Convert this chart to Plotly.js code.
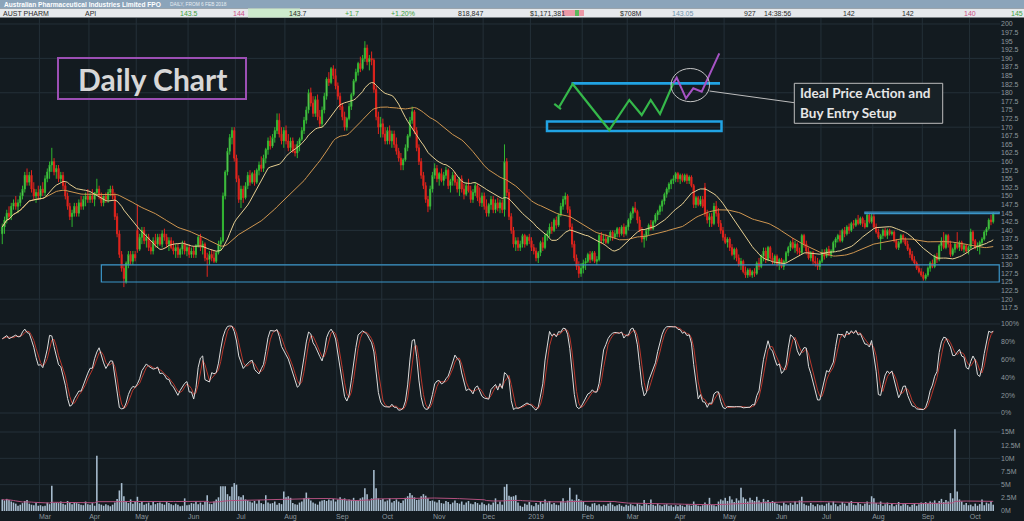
<!DOCTYPE html>
<html><head><meta charset="utf-8">
<script src="https://cdn.plot.ly/plotly-3.0.1.min.js"></script>
<style>html,body{margin:0;padding:0;background:#131b20;overflow:hidden}#chart{width:1024px;height:521px}</style>
</head><body><div id="chart"></div><script>
// ---------- DATA (daily, one line per month, Feb-2018 .. Oct-2019) ----------
const startDate = '2018-02-06';
const opens = [
139,141,143,145,144,147,148,147,148,150,152,156,154,156,152,150,151,
150,152,151,155,157,159,160,157,158,155,156,153,150,147,144,145,147,145,148,147,149,150,
149,150,149,151,152,150,148,150,149,151,152,150,144,139,133,129,125,130,133,131,133,
140,134.5,138,140,137,138,135,134,137,136,138,136,139,138,136,137,135,134,135,133,134.5,136,134,
135,133,134,133,135.5,138,135,136,132,131.5,133,132,131,133.5,136,137,150,157,163,167,169,
161,155,149,152,149.5,153,156,154,156.5,154,157.5,159,158,161,163.5,166,164.5,167,169,172,168,166,
169,166,164,166,163,162.5,165,166.5,169,172,175,180,177,174,178,173,171,175,179,184,183,187,185,
182,179,176,173,170,172.5,176,179.5,183.5,186,188.5,187,190,193,189,190,189.5,181,173,170,
171,168,166,169,166,168,165,163,161,159,160.5,164,167.5,172,174.5,169,164,160,156,153,149,147,152,
156,158,155,156.5,154.5,156,157.5,153,154.5,156,154,152,155,152,150.5,153,151.5,149,151,153,149.5,148,
150,147,145,147.5,149,146,148,146.5,148,146,160,151,144,140,136,137,135,136,138.5,136,138,
137,135,134,132,133.5,136.5,135,138.5,139,141,140,143,141.5,144.5,147,149,150,146,141,136,132,129.5,127.5,
129,130.5,131,133,131.5,133.5,131,131.5,138.5,137,137.5,136.5,138,139.5,138,139,140.5,139,141,139,
141,143,145,146.5,145.5,143,140,137.5,138,140,141.5,140.5,142.5,144.5,145.5,147,148.5,150.5,152,153.5,154.5,
155,156.5,155,156,154.5,156,154.5,155.5,153,147.5,149.5,147.5,149,152.5,145,143,144,142,147,145,142,140,
138,136.5,137.5,135,133,134.5,132,130,131,128,127,128.5,127,128,127.5,130.5,129.5,132.5,134,131.5,135,132,131,
132.5,130,131.5,129.5,131,133.5,135,136.5,135,136,134,133.5,138.5,136,134,132,133.5,131,130.5,129.5,
131,133.5,132.5,134.5,133,134,136.5,137.5,138.5,137,140,139,141,140,142,141.5,143,142,143.5,142,141,144.5,142.5,
144,141,139.5,137.5,138.5,140,138.5,140,139,139.5,137,135,136.5,138.5,137.5,136,134.5,133,131.5,130.5,129,128,
127,126,127,129,130.5,129.5,132.5,131.5,135.5,137,135,138.5,136,133,134.5,136,135,136.5,134.5,135.5,134,
135,139.5,137,135,135.5,136.5,137.5,139.5,140.5,143,142.5];
const highs = [
142,144,146,147,148,149,150,149,151,153,157,158,157,157.5,154,152,153,
153,154,156,158,160,164,161,159,159,157,157,154,151,148,146,148,148,149,150,150,151,152,
151,152,151,155,153,151,150,151,152,153,153,151,145,140,134,130,131,134,134,134,134,
147.5,139,141,141,139,139,137,138,139,139,139,140,140.5,139,138,138,137,136,136,135,137,137,136,
136,135,135.5,136,138.5,139,137,136.5,133.5,134,134.5,134,134,137,138,151,157.5,164,168,170,170,
162,156,153,153,154,157,157.5,157,157.5,158,160,161.5,162,164,167,167.5,168,170,174,174,170,170,
170.5,168,167,167,165,166,167,170,173,176,181,181.5,179,179,179.5,175,176,180,184.5,186,187.5,188,187,
183,180,177,174.5,173,177,180,184,187,189,190.5,191,195,194,191,192,190,182,174.5,173,
172.5,170,170,170.5,169,169,167,164,162.5,161,165,168,173,176,175,170,165,161,157,154,150,153,157,
159.5,159,157,158,157,158.5,158,155,157,157,155,155.5,156,153.5,154,155,153,152,154,153.5,152.5,151,
151,149,148,150,150,149,149.5,149,149,165,161,152,145,141,138,138,137,139,139,138.5,139,
138,136,135,134,137,138,139,140,142,142.5,143.5,144,145,148,150,151,150.5,147,142,137,133,131,130.5,
131.5,132,133.5,134,134,134,132.5,139,139.5,139,139,138.5,140,140,140,141,141,141.5,142,141.5,
143.5,145.5,147,148.3,146,144,141,139,140.5,142,143,143,145,146,147.5,149,151,152.5,154,155,156,
157,157,156.5,156.5,156.5,156.5,156,156,153.5,150,150,150,150,153.8,146,145,145,148,148.5,146.5,143,141,
139,138,138,136,135,135,133,132,131.5,129.5,129,129,128.5,129,131,132,133,135,135,135.5,135.5,133.5,133,
133,132,132,131.5,134,135.5,137,137.8,137,136.5,135,139,139,137,135,134,134,132.5,132,131.5,
134.5,134.5,135,135.5,134.5,137,138,139,140,140.5,141,141.5,142,142.5,143,143.5,144.5,144,144,143,145.3,145,145,
145,142,140.5,139,140.5,140.7,140.5,140.5,140,140,137.5,137,139,139,138,137,135,134,132.5,131,130,129,
128,127.5,129.5,131,131.5,133,133.5,136,138,139.5,139,139,137,135,136.5,139.5,137,137,136,136,135.5,
140.5,140,137.5,136.5,137,138,140,141,143.5,144.5,145.3];
const lows = [
136,139,142,143,143,146,146,145,147,149,151,153,153,151,149,148,149,
149,150,150,154,155,157,156,155,154,154,152,149,146,143,141,144,144,144,146,146,147,148,
148,148,147,150,149,147,147,148,148,150,149,143,138,132,128,123.5,124.5,129,130,130,131,
133.5,134,136,136,135,134,133,133,135,135,135.5,135,137,135,134,134.5,133,132,132,132,133,133,132.5,
132,132,132,132,135,134,133,131,126.5,130,131,130.5,130.5,133,134,136.5,149,156,162,165,160,
154,148,146.5,148,149,152,153,153.5,153,153.5,156,157,157,159.5,162,163.5,164,165.5,168,167,165,164,
165,163,163,162.5,161.5,161,163,166,168,171,174,176,173,173,172,170,170,174,178,182,182.5,184,181,
178,175,172,169,169,172,175,179,183,185,186,186.5,189,188,186.5,188,180,172,168,167,
167,165,165,165,164,164,162,160,157.5,157.5,160,163,167,171,168,163,159,155,152,148,145.3,146,151,
155,154,153,154,153,155,152,151,153,153,151,150,151,149,150,151,148,148,150,148.5,147,146.8,
146,144,144,146,145,145,145.5,145,145,144,150,143,139,135,134,134,134,135,135,135.5,136,
134,133,131,130.5,132.5,134,134.5,137,138,139,139.5,140.5,141,144,146,147.5,145,140,135,131,128.5,126.2,126.5,
127.5,128.5,130.5,130.5,131,130.5,130,131,136,136.3,136,136,137,137,137.5,138,138,138.5,138,138.5,
140,142,143.5,145,142,139.5,136.5,135,137,138.5,140,140,142,143,144.5,145.5,147.5,149.5,151,152,153.5,
154,154,153.5,154,154,153.5,153.5,152.5,146.5,146.5,147,147,146.5,144,142,141,141,141.5,144,141,139,137,
136,135,134,132.5,131.5,131,129.5,128.5,127.5,126.2,126.2,126.5,126.2,126.5,127,128.5,129,131,130.5,131,131.5,130,130,
129.5,128.5,129,128.5,130.5,132.5,134,134.5,133.5,133,132.5,133,135,133,131.5,131,130,129.5,128.5,128.5,
130.5,131.5,132,132.5,132,133.5,135,136.5,136.5,136.5,138,138.5,139,139.5,140.5,141,141.5,141.5,141,140.5,141,142,142,
140.5,139,137.5,134.3,137.5,138,137.5,138.5,138.5,136.5,134.5,134.3,136,136.5,135.5,134,132,131,130,128.5,127.5,126.5,
125.4,125.4,126.5,128,129,129,130.5,131,134,134.5,134.5,135,132.3,132.5,133.5,134.5,134,134,133.5,133.5,133,
134.5,136,134.5,134,133,135.5,137,138.5,140,141.5,142];
const closes = [
141,143,145,144,147,148,147,148,150,152,156,154,156,152,150,151,150,
152,151,155,157,159,160,157,158,155,156,153,150,147,144,145,147,145,148,147,149,150,149,
150,149,151,152,150,148,150,149,151,152,150,144,139,133,129,126,130.5,133,131,133,132,
134.5,138,140,137,138,135,134,137,136,138,136,139,138,136,137,135,134,135,133,134.5,136,134,135,
133,134,133,135.5,138,135,136,132,131.5,133,132,131,133.5,136,137,150,157,163,167,169,161,
155,149,152,149.5,153,156,154,156.5,154,157.5,159,158,161,163.5,166,164.5,167,169,172,168,166,169,
166,164,166,163,162.5,165,166.5,169,172,175,180,177,174,178,173,171,175,179,184,183,187,185,182,
179,176,173,170,172.5,176,179.5,183.5,186,188.5,187,190,193,189,190,189.5,181,173,170,171,
168,166,169,166,168,165,163,161,159,160.5,164,167.5,172,174.5,169,164,160,156,153,149,147,152,156,
158,155,156.5,154.5,156,157.5,153,154.5,156,154,152,155,152,150.5,153,151.5,149,151,153,149.5,148,150,
147,145,147.5,149,146,148,146.5,148,146,160,151,144,140,136,137,135,136,138.5,136,138,137,
135,134,132,133.5,136.5,135,138.5,139,141,140,143,141.5,144.5,147,149,150,146,141,136,132,129.5,127.5,129,
130.5,131,133,131.5,133.5,131,131.5,138.5,137,137.5,136.5,138,139.5,138,139,140.5,139,141,139,141,
143,145,146.5,145.5,143,140,137.5,138,140,141.5,140.5,142.5,144.5,145.5,147,148.5,150.5,152,153.5,154.5,155,
156.5,155,156,154.5,156,154.5,155.5,153,147.5,149.5,147.5,149,147,145,143,144,142,147,145,142,140,138,
136.5,137.5,135,133,134.5,132,130,131,128,127,128.5,127,128,127.5,130.5,129.5,132.5,134,131.5,135,132,131,132.5,
130,131.5,129.5,131,133.5,135,136.5,135,136,134,133.5,138.5,136,134,132,133.5,131,130.5,129.5,131,
133.5,132.5,134.5,133,134,136.5,137.5,138.5,137,140,139,141,140,142,141.5,143,142,143.5,142,141,144.5,142.5,144,
141,139.5,138,138.5,140,138.5,140,139,139.5,137,135,136.5,138.5,137.5,136,134.5,133,131.5,130.5,129,128,127,
126,127,129,130.5,129.5,132.5,131.5,135.5,137,135,138.5,136,133,134.5,136,135,136.5,134.5,135.5,134,135,
139.5,137,135,135.5,136.5,137.5,139.5,140.5,143,142.5,145];
// volume, millions of shares
const volumes = [
2.2,2.0,2.3,2.1,1.8,1.6,1.4,1.0,1.2,1.5,1.9,2.1,1.4,1.2,1.1,1.6,1.0,
1.1,0.9,1.0,1.6,1.3,4.8,1.5,1.6,1.5,1.8,1.4,1.2,1.9,1.6,1.3,1.7,1.5,1.4,1.2,1.1,1.8,1.3,
1.2,1.5,1.0,10.5,1.4,1.2,1.0,1.3,1.1,0.9,1.2,1.6,2.3,3.9,5.3,2.8,1.9,1.5,2.2,1.4,1.8,
2.7,1.5,1.8,1.2,1.4,1.6,1.1,1.7,1.3,1.5,1.6,1.4,1.2,1.7,1.5,1.3,1.1,1.4,1.2,0.9,1.0,2.4,1.1,
1.2,1.5,1.4,1.8,1.3,1.6,1.2,1.7,3.0,1.4,1.3,1.8,2.2,2.6,4.7,4.7,4.7,3.2,2.8,4.6,5.3,
5.0,2.8,2.6,3.0,2.2,2.0,1.8,1.6,1.9,1.4,2.1,1.5,1.3,3.0,1.6,1.4,1.5,1.8,1.2,1.5,1.3,3.7,
2.6,2.8,2.5,1.5,1.3,1.2,1.6,1.8,2.4,3.5,2.5,2.0,1.6,1.4,1.2,1.8,2.0,2.1,1.9,2.2,2.0,2.3,1.8,
2.2,2.6,2.3,2.4,2.0,2.2,2.1,2.5,2.0,1.9,2.4,2.6,4.3,3.2,2.0,2.4,7.8,4.3,2.4,2.1,
2.3,1.8,2.0,2.4,1.6,1.9,2.2,1.8,1.5,2.0,2.5,2.8,3.4,3.0,2.6,2.1,2.2,2.8,3.2,2.9,2.4,1.9,2.0,
1.8,1.6,2.1,1.5,1.4,1.9,1.7,1.3,1.6,2.0,1.5,1.4,1.8,1.2,1.6,1.9,1.4,1.3,1.7,1.5,1.2,1.6,
1.3,1.1,1.4,1.2,1.6,2.4,1.3,1.8,1.2,4.6,5.1,2.9,2.7,2.8,3.0,1.6,1.0,0.8,1.4,1.2,1.7,
1.1,0.9,1.5,1.2,1.8,1.4,2.2,1.6,1.9,1.3,1.5,1.2,1.1,1.8,2.4,1.6,2.0,4.4,2.2,2.0,3.1,2.3,2.0,
1.8,1.2,1.0,0.8,1.4,1.5,1.1,1.3,0.9,1.2,1.0,1.4,1.6,1.2,0.9,1.1,1.3,1.0,0.8,1.2,
1.0,1.3,1.1,0.9,1.4,1.2,1.0,2.1,1.3,1.1,2.2,1.2,1.0,1.4,1.1,0.9,1.2,1.3,1.0,1.1,0.8,
1.1,0.9,1.2,1.0,0.8,1.3,1.1,1.0,1.8,1.2,1.0,0.9,1.1,1.6,1.3,2.5,1.2,1.1,0.9,1.8,2.2,2.0,
2.5,1.9,2.8,2.2,1.7,2.4,2.0,4.4,2.6,2.3,1.8,2.5,2.1,1.9,2.7,2.0,1.6,2.3,1.8,2.1,1.5,1.9,1.7,
1.4,1.2,1.0,1.6,1.3,1.1,1.5,1.2,1.8,1.3,2.0,2.7,1.4,1.1,1.0,1.5,1.2,0.9,1.3,1.1,
1.2,1.0,1.4,1.6,1.1,1.8,1.3,0.9,1.2,1.7,1.4,1.0,1.5,1.9,1.2,1.1,1.6,1.3,1.0,1.4,1.8,1.2,2.8,
2.4,1.5,1.2,1.8,1.0,1.3,1.6,1.1,1.4,0.9,1.2,1.7,1.0,1.3,1.5,1.1,0.8,1.2,1.4,1.0,1.3,1.6,
1.5,1.7,1.4,1.8,1.6,2.0,1.5,1.9,2.3,1.7,2.1,1.8,3.4,2.4,15.5,3.7,2.2,1.8,1.2,1.5,1.1,
1.2,0.9,1.4,1.0,1.3,2.2,1.1,1.6,1.4,1.9,1.2];
const monthLabels = ['Mar','Apr','May','Jun','Jul','Aug','Sep','Oct','Nov','Dec','2019','Feb','Mar','Apr','May','Jun','Jul','Aug','Sep','Oct'];
const priceTickStep = 2.5;
const supportZone = {from:'2018-04-09', to:'2019-10-17 16:00', low:125, high:130};
const resistance = {from:'2019-07-26', to:'2019-10-17 16:00', level:145};
const headerTitle = 'Australian Pharmaceutical Industries Limited FPO';
const headerSub = 'DAILY, FROM 6 FEB 2018';
const headerCells = [
 ['AUST PHARM',1,'#2a2a2a'],['API',83,'#2a2a2a'],['143.5',178,'#3f9f3f'],['144',231,'#cc4f86'],
 ['143.7',287,'#2a2a2a'],['+1.7',343,'#3f9f3f'],['+1.20%',389,'#3f9f3f'],['818,847',456,'#2a2a2a'],
 ['$1,171,381',528,'#2a2a2a'],['$708M',618,'#2a2a2a'],['143.05',670,'#6f93ad'],['927',742,'#2a2a2a'],
 ['14:38:56',762,'#2a2a2a'],['142',841,'#2a2a2a'],['142',900,'#2a2a2a'],['140',962,'#cc4f86'],['145',1009,'#3f9f3f']];

// ---------- helpers ----------
function tradingDates(start, n){
  const out=[]; const d=new Date(start+'T00:00:00Z');
  while(out.length<n){ const wd=d.getUTCDay(); if(wd!==0&&wd!==6) out.push(d.toISOString().slice(0,10)); d.setUTCDate(d.getUTCDate()+1); }
  return out;
}
function sma(arr,n){ return arr.map((v,i)=>{const s=Math.max(0,i-n+1); let t=0; for(let j=s;j<=i;j++) t+=arr[j]; return t/(i-s+1);}); }
function stochRaw(h,l,c,n){ return c.map((v,i)=>{const s=Math.max(0,i-n+1); let hh=-Infinity, ll=Infinity; for(let j=s;j<=i;j++){hh=Math.max(hh,h[j]); ll=Math.min(ll,l[j]);} return hh>ll?100*(v-ll)/(hh-ll):50;}); }

const N = closes.length;
const dates = tradingDates(startDate, N);
const ma20 = sma(closes,20), ma50 = sma(closes,50);
const kLine = sma(stochRaw(highs,lows,closes,14),3);
const dLine = sma(kLine,3);
const volMA = sma(volumes,50);

const monthStarts=[]; for(let i=1;i<N;i++){ if(dates[i].slice(0,7)!==dates[i-1].slice(0,7)) monthStarts.push(i); }
const tickvals = monthStarts.map(i=>dates[Math.min(i+2,N-1)]);

// pixel -> paper
const PX = x => x/1000, PY = y => (511-y)/493;
function path(pts){ return pts.map((p,i)=>(i?'L':'M')+PX(p[0]).toFixed(4)+','+PY(p[1]).toFixed(4)).join(' '); }

const gridCol = '#243038';
const shapes = [];
monthStarts.forEach(i=>{ shapes.push({type:'line', xref:'x', yref:'paper', x0:dates[i-1]+' 12:00', x1:dates[i-1]+' 12:00', y0:0, y1:1, line:{color:gridCol,width:1}, layer:'below'}); });
for(let p=120;p<=200;p+=10) shapes.push({type:'line', xref:'paper', yref:'y', x0:0, x1:1, y0:p, y1:p, line:{color:gridCol,width:1}, layer:'below'});
[0,100].forEach(p=>shapes.push({type:'line', xref:'paper', yref:'y2', x0:0, x1:1, y0:p, y1:p, line:{color:gridCol,width:1}, layer:'below'}));
[5,10,15].forEach(p=>shapes.push({type:'line', xref:'paper', yref:'y3', x0:0, x1:1, y0:p, y1:p, line:{color:gridCol,width:1}, layer:'below'}));
// support zone & resistance
shapes.push({type:'rect', xref:'x', yref:'y', x0:supportZone.from, x1:supportZone.to, y0:supportZone.low, y1:supportZone.high, line:{color:'#3b95c8',width:1.2}, fillcolor:'rgba(0,0,0,0)'});
shapes.push({type:'rect', xref:'x', yref:'y', x0:resistance.from, x1:resistance.to, y0:resistance.level-0.15, y1:resistance.level+0.3, line:{color:'#3b95c8',width:1.2}, fillcolor:'rgba(0,0,0,0)'});
// Daily chart box
shapes.push({type:'rect', xref:'paper', yref:'paper', x0:PX(58), x1:PX(246), y0:PY(99), y1:PY(58), line:{color:'#9c4fb4',width:2}});
// schematic
shapes.push({type:'rect', xref:'paper', yref:'paper', x0:PX(547), x1:PX(721.5), y0:PY(131), y1:PY(121.5), line:{color:'#21a3e3',width:2.5}});
shapes.push({type:'line', xref:'paper', yref:'paper', x0:PX(571.5), x1:PX(720), y0:PY(83.3), y1:PY(83.3), line:{color:'#21a3e3',width:2.8}});
shapes.push({type:'path', xref:'paper', yref:'paper', path:path([[559.3,106.7],[572.7,84],[609.3,130],[629.3,100],[641.7,115],[650.7,100],[660,114],[673.3,83.3]]), line:{color:'#35b84a',width:2.2}});
shapes.push({type:'path', xref:'paper', yref:'paper', path:path([[554.3,104],[561,109]]), line:{color:'#35b84a',width:2.2}});
shapes.push({type:'path', xref:'paper', yref:'paper', path:path([[673.3,83.3],[676.7,77.7],[686,98.3],[693.3,88.3],[701.7,91.7],[719.3,53.3]]), line:{color:'#a653c4',width:2}});
shapes.push({type:'circle', xref:'paper', yref:'paper', x0:PX(671), x1:PX(709.5), y0:PY(101.7), y1:PY(68.5), line:{color:'#c4c4c4',width:1}});
shapes.push({type:'line', xref:'paper', yref:'paper', x0:PX(709.5), x1:PX(794.3), y0:PY(91), y1:PY(102.7), line:{color:'#bdbdbd',width:1}});
shapes.push({type:'rect', xref:'paper', yref:'paper', x0:PX(794.3), x1:PX(942.7), y0:PY(123.3), y1:PY(83.3), line:{color:'#bdbdbd',width:1}, fillcolor:'#182126'});
// header
shapes.push({type:'rect', xref:'paper', yref:'paper', x0:0, x1:PX(1024), y0:PY(8.5), y1:PY(0), line:{width:0}, fillcolor:'#8ba4ba'});
shapes.push({type:'rect', xref:'paper', yref:'paper', x0:0, x1:PX(1024), y0:PY(17.5), y1:PY(8.5), line:{width:0}, fillcolor:'#e6e9ec'});
shapes.push({type:'rect', xref:'paper', yref:'paper', x0:PX(248), x1:PX(300), y0:PY(17.5), y1:PY(8.5), line:{width:0}, fillcolor:'#cdebcd'});
[[562,575,'#ec98a6'],[575,579,'#5cb85c'],[579,584,'#ec98a6']].forEach(b=>shapes.push({type:'rect', xref:'paper', yref:'paper', x0:PX(b[0]), x1:PX(b[1]), y0:PY(16), y1:PY(10), line:{width:0}, fillcolor:b[2]}));

const annotations = [];
const A = (text,x,y,o)=>annotations.push(Object.assign({text, xref:'paper', yref:'paper', x:PX(x), y:PY(y), showarrow:false, xanchor:'left', yanchor:'middle'},o||{}));
A(headerTitle,2,4.4,{font:{family:'Liberation Sans, Arial',size:6.6,color:'#ffffff',weight:700}});
A(headerSub,168,4.6,{font:{family:'Liberation Sans, Arial',size:4.8,color:'#e8eef3'}});
headerCells.forEach(c=>A(c[0],c[1],13.2,{font:{family:'Liberation Sans, Arial',size:7,color:c[2]}}));
A('Daily Chart',152,79,{xanchor:'center',font:{family:'Lato, Open Sans, sans-serif',size:30,color:'#d7d7d7',weight:700}});
A('Ideal Price Action and',798,93.3,{font:{family:'Lato, Open Sans, sans-serif',size:13.5,color:'#e6e6e6',weight:700}});
A('Buy Entry Setup',798,112.7,{font:{family:'Lato, Open Sans, sans-serif',size:13.5,color:'#e6e6e6',weight:700}});

const traces = [
 {type:'bar', x:dates, y:volumes, xaxis:'x', yaxis:'y3', marker:{color:'#a8bdcf',line:{width:0}}, hoverinfo:'skip'},
 {type:'scatter', mode:'lines', x:dates, y:volMA, xaxis:'x', yaxis:'y3', line:{color:'#b2507e',width:1}, hoverinfo:'skip'},
 {type:'scatter', mode:'lines', x:dates, y:dLine, xaxis:'x', yaxis:'y2', line:{color:'#b8372c',width:1}, hoverinfo:'skip'},
 {type:'scatter', mode:'lines', x:dates, y:kLine, xaxis:'x', yaxis:'y2', line:{color:'#dcdcdc',width:1}, hoverinfo:'skip'},
 {type:'candlestick', x:dates, open:opens, high:highs, low:lows, close:closes, xaxis:'x', yaxis:'y',
  increasing:{line:{color:'#2fb52f',width:1}, fillcolor:'#a6e3a0'}, decreasing:{line:{color:'#e2241d',width:1}, fillcolor:'#e2241d'}, whiskerwidth:0, hoverinfo:'skip'},
 {type:'scatter', mode:'lines', x:dates, y:ma50, xaxis:'x', yaxis:'y', line:{color:'#cf9650',width:1}, hoverinfo:'skip'},
 {type:'scatter', mode:'lines', x:dates, y:ma20, xaxis:'x', yaxis:'y', line:{color:'#e6cf92',width:1}, hoverinfo:'skip'}
];

const tickFont = {family:'Liberation Sans, Arial', size:7, color:'#8d979d'};
const layout = {
 width:1024, height:521, margin:{l:0,r:24,t:18,b:10},
 paper_bgcolor:'#131b20', plot_bgcolor:'#131b20', showlegend:false, hovermode:false, bargap:0.3,
 font:tickFont,
 xaxis:{type:'date', rangebreaks:[{bounds:['sat','mon']}], range:['2018-02-05','2019-10-18'], anchor:'y3',
   tickmode:'array', tickvals:tickvals, ticktext:monthLabels, showgrid:false, zeroline:false, showline:false, ticks:'', tickfont:tickFont, rangeslider:{visible:false}},
 yaxis:{domain:[PY(316),1], range:[115.11,201.74], side:'right', anchor:'x', tick0:0, dtick:priceTickStep, showgrid:false, zeroline:false, ticks:'', tickfont:tickFont},
 yaxis2:{domain:[PY(418),PY(318)], range:[-5.6,106.7], side:'right', anchor:'x', tickmode:'array', tickvals:[0,20,40,60,80,100], ticktext:['0%','20%','40%','60%','80%','100%'], showgrid:false, zeroline:false, ticks:'', tickfont:tickFont},
 yaxis3:{domain:[0,PY(420)], range:[0,17.28], side:'right', anchor:'x', tickmode:'array', tickvals:[0,2.5,5,7.5,10,12.5,15], ticktext:['0M','2.5M','5M','7.5M','10M','12.5M','15M'], showgrid:false, zeroline:false, ticks:'', tickfont:tickFont},
 shapes, annotations
};
Plotly.newPlot('chart', traces, layout, {staticPlot:true, displayModeBar:false});
</script></body></html>
